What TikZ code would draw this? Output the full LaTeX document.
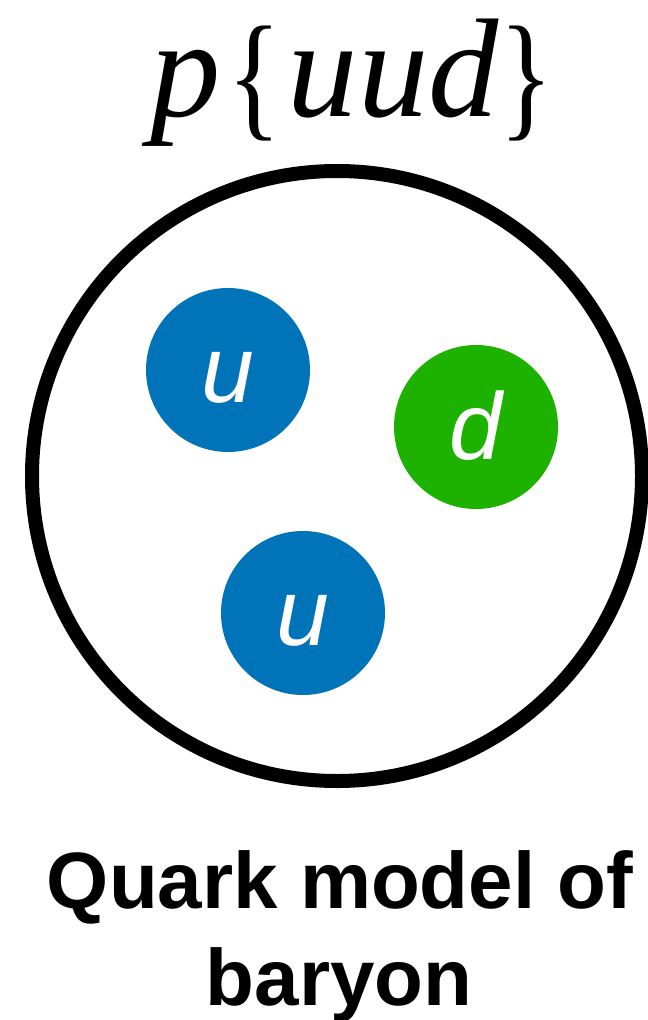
\documentclass[tikz,border=0pt]{standalone}
\usepackage{fontspec}
\setmainfont{Liberation Serif}
\newfontfamily\labelfont{Liberation Sans}
\definecolor{quarkblue}{RGB}{0,115,185}
\definecolor{quarkgreen}{RGB}{30,178,0}
\newcommand{\tallbrace}[1]{\raisebox{-3pt}{\scalebox{0.8}[0.99]{#1}}}
\tikzset{
  quark/.style={circle, draw=none, minimum size=164*0.02cm, inner sep=0pt},
  qlabel/.style={text=white, anchor=base, font=\labelfont\itshape\fontsize{54}{60}\selectfont},
  title/.style={anchor=base west, inner sep=0pt, font=\fontsize{80}{86}\selectfont},
  caption/.style={anchor=base, font=\labelfont\bfseries\fontsize{45.5}{50}\selectfont}
}
\begin{document}
\begin{tikzpicture}[x=0.02cm, y=-0.02cm]
\useasboundingbox (0,0) rectangle (647,1020);
\node[title] (t) at (150,117) {\textit{p}\kern4pt\tallbrace{\{}\kern3.5pt\textit{uud}\kern0.5pt\tallbrace{\}}};
\draw[line width=14*0.02cm] (337,476) circle (305);
\node[quark, fill=quarkblue] (u1) at (228,370) {};
\node[quark, fill=quarkgreen] (d) at (476,427) {};
\node[quark, fill=quarkblue] (u2) at (303,613) {};
\node[qlabel] (lu1) at (228,402) {u};
\node[qlabel] (ld) at (476,459) {d};
\node[qlabel] (lu2) at (303,645) {u};
\node[caption] (c1) at (340,908) {Quark model of};
\node[caption] (c2) at (339,1005) {baryon};
\end{tikzpicture}
\end{document}
